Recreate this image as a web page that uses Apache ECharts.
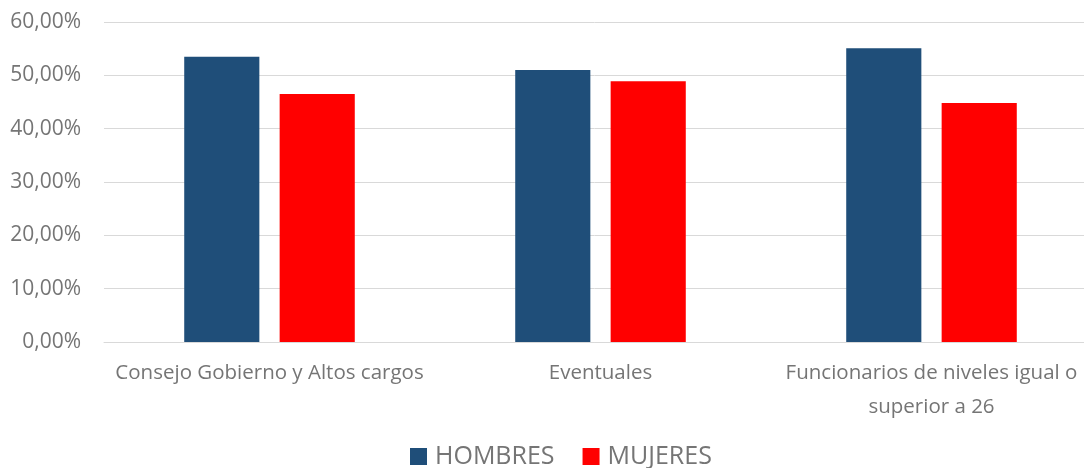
<!DOCTYPE html>
<html>
<head>
<meta charset="utf-8">
<script src="https://cdn.jsdelivr.net/npm/echarts@6/dist/echarts.min.js"></script>
<style>
  html, body { margin: 0; padding: 0; background: #fff; }
  #chart { width: 1084px; height: 468px; }
</style>
</head>
<body>
<div id="chart"></div>
<script>
// categories and values (percent)
var categories = ['Consejo Gobierno y Altos cargos', 'Eventuales', 'Funcionarios de niveles igual o\nsuperior a 26'];
var hombres = [53.5, 51.0, 55.1];
var mujeres = [46.5, 48.9, 44.8];
var seriesNames = ['HOMBRES', 'MUJERES'];
var colors = ['#1f4e79', '#ff0000'];

var textColor = '#757575';
var fontFamily = '"Open Sans", "Noto Sans", sans-serif';

var myChart = echarts.init(document.getElementById('chart'));
myChart.setOption({
  color: colors,
  animation: false,
  textStyle: { fontFamily: fontFamily },
  grid: {
    left: 104,
    top: 22,
    width: 993,
    height: 320,
    outerBoundsMode: 'none',
    containLabel: false
  },
  legend: {
    top: 439,
    left: 405,
    itemWidth: 17,
    itemHeight: 17,
    itemGap: 28,
    icon: 'rect',
    textStyle: { color: textColor, fontSize: 25, fontFamily: fontFamily, padding: [0, 0, 0, 3] },
    data: seriesNames
  },
  xAxis: {
    type: 'category',
    data: categories,
    axisLine: { lineStyle: { color: '#d9d9d9', width: 1 } },
    axisTick: { show: false },
    axisLabel: {
      color: textColor,
      fontSize: 20.5,
      lineHeight: 34,
      margin: 14,
      interval: 0
    }
  },
  yAxis: {
    type: 'value',
    min: 0,
    max: 60,
    interval: 10,
    axisLine: { show: false },
    axisTick: { show: false },
    splitLine: { lineStyle: { color: '#d9d9d9', width: 1 } },
    axisLabel: {
      color: textColor,
      fontSize: 21,
      margin: 23,
      formatter: function (v) { return v.toFixed(2).replace('.', ',') + '%'; }
    }
  },
  series: [
    {
      name: seriesNames[0],
      type: 'bar',
      barWidth: '22.7%',
      barGap: '27%',
      data: hombres
    },
    {
      name: seriesNames[1],
      type: 'bar',
      barWidth: '22.7%',
      barGap: '27%',
      data: mujeres
    }
  ]
});
</script>
</body>
</html>
